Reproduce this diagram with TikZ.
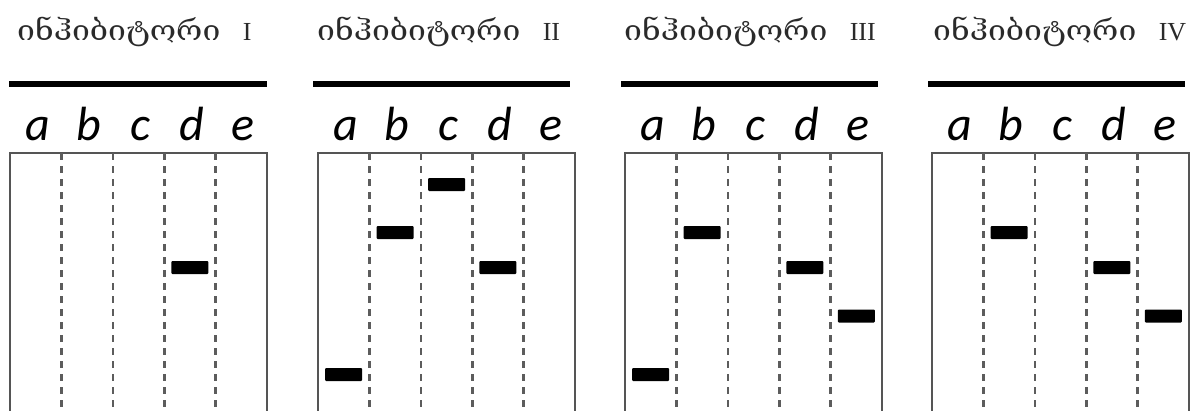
\documentclass[tikz,border=0pt]{standalone}
\usepackage{fontspec}
\setmainfont{Liberation Serif}
\newfontfamily\geofont{DejaVu Serif}
\newfontfamily\lanefont{Carlito}
\definecolor{framegray}{HTML}{555555}
\definecolor{lanegray}{HTML}{5C5C5C}
\definecolor{titleink}{HTML}{2A2A2A}
\begin{document}
\begin{tikzpicture}[x=1pt,y=-1pt,
  frame/.style={draw=framegray,line width=2.4pt},
  lane/.style={draw=lanegray,line width=2.6pt,dash pattern=on 7pt off 6pt},
  rule/.style={line width=5.5pt},
  band/.style={fill=black,rounded corners=1pt,minimum width=37pt,minimum height=13pt,inner sep=0pt},
  title/.style={anchor=base west,inner sep=0pt,text=titleink},
  geo/.style={font=\geofont\fontsize{28}{32}\selectfont},
  letter/.style={anchor=base,inner sep=0pt,font=\lanefont\itshape\fontsize{48}{52}\selectfont}]
\useasboundingbox (0,0) rectangle (1199,410);
\clip (0,0) rectangle (1199,410);

% four gel panels: left edge, numeral, title start, rule ends
\foreach \p/\L/\num/\tx/\ra/\rb in {1/10/I/17/9/267, 2/318/II/317/313/570,
                                  3/625/III/624/621/878, 4/932/IV/933/928/1185}{
  \node[title,geo] (title\p) at (\tx,40) {\scalebox{1.14}[1]{ინჰიბიტორი}};
  \node[title,font=\fontsize{26}{30}\selectfont] (num\p) at ([xshift=22pt]title\p.base east) {\num};
  \draw[rule] (\ra,84) -- (\rb,84);
  \draw[frame] (\L,420) -- (\L,153) -- (\L+257,153) -- (\L+257,420);
  \foreach \k in {1,...,4}
    \draw[lane] (\L+\k*51.4,153) -- (\L+\k*51.4,420);
  \foreach \c [count=\k] in {a,b,c,d,e}
    \node[letter] (lab\p\c) at (\L+\k*51.4-25.7+2,140) {\c};
}

% bands: panel / lane index / vertical centre
\foreach \p/\L/\k/\y in {
  1/10/4/267.5,
  2/318/1/374.5, 2/318/2/232.5, 2/318/3/184.5, 2/318/4/267.5,
  3/625/1/374.5, 3/625/2/232.5, 3/625/4/267.5, 3/625/5/316,
  4/932/2/232.5, 4/932/4/267.5, 4/932/5/316}
  \node[band] (band\p\k) at (\L+\k*51.4-25.7,\y) {};
\end{tikzpicture}
\end{document}
